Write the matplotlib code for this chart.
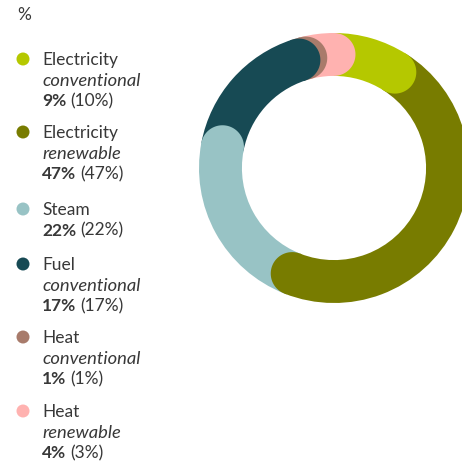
import matplotlib
matplotlib.use("Agg")
import matplotlib.pyplot as plt
from matplotlib.patches import Wedge, Circle, Polygon
import numpy as np

# ---- data ----
categories = ["Electricity", "Electricity", "Steam", "Fuel", "Heat", "Heat"]
subtypes = ["conventional", "renewable", None, "conventional", "conventional", "renewable"]
values = [9, 47, 22, 17, 1, 4]
prev_values = [10, 47, 22, 17, 1, 3]
colors = ["#b5c800", "#787c00", "#98c3c5", "#174a54", "#a87b6b", "#ffb2b0"]
unit_label = "%"

W, H = 462, 461
fig = plt.figure(figsize=(W / 100, H / 100), dpi=100)
fig.patch.set_facecolor("white")

FONT = ["Lato", "DejaVu Sans"]
TXT = "#383838"
FS = 12.5

# ---- donut ----
cx, cy, R = 334, 168, 135
ax = fig.add_axes([(cx - R) / W, 1 - (cy + R) / H, 2 * R / W, 2 * R / H])
ax.set_xlim(-1, 1)
ax.set_ylim(-1, 1)
ax.axis("off")
width = 0.318
r_in = 1 - width
rmid = 1 - width / 2

total = sum(values)
cum = np.cumsum([0] + values)
angles = [(cum[i] / total * 360, cum[i + 1] / total * 360) for i in range(len(values))]

# flat segment bodies
for (a0, a1), c in zip(angles, colors):
    ax.add_patch(Wedge((0, 0), 1, 90 - a1, 90 - a0, width=width, facecolor=c, edgecolor="none"))


def cap_polygon(a1, back=1.0):
    # small tail of the segment plus a semicircular cap at its clockwise end
    th = np.radians(np.linspace(90 - (a1 - back), 90 - a1, 8))
    outer = np.c_[np.cos(th), np.sin(th)]
    phi = np.radians(90 - a1)
    ex, ey = rmid * np.cos(phi), rmid * np.sin(phi)
    t = np.linspace(phi, phi - np.pi, 60)
    cap = np.c_[ex + width / 2 * np.cos(t), ey + width / 2 * np.sin(t)]
    inner = r_in * np.c_[np.cos(th[::-1]), np.sin(th[::-1])]
    return np.vstack([outer, cap, inner])


for (a0, a1), c in reversed(list(zip(angles, colors))):
    ax.add_patch(Polygon(cap_polygon(a1), closed=True, facecolor=c, edgecolor="none"))

# ---- legend ----
fig.text(17 / W, 1 - 15 / H, unit_label, fontsize=FS, color=TXT, family=FONT, va="center", ha="left")

renderer = fig.canvas.get_renderer()
y_first = [60, 133, 210, 265, 338, 412]
line_h = 20.7
x_text = 42
for i, cat in enumerate(categories):
    y = y_first[i]
    fig.patches.append(Circle((23 / W, 1 - (y - 1) / H), 6.5 / W, transform=fig.transFigure,
                              facecolor=colors[i], edgecolor="none"))
    fig.text(x_text / W, 1 - y / H, cat, fontsize=FS, color=TXT, family=FONT, va="center", ha="left")
    yy = y
    if subtypes[i]:
        yy += line_h
        fig.text(x_text / W, 1 - yy / H, subtypes[i], fontsize=13.2, color=TXT, family=FONT,
                 style="italic", va="center", ha="left")
    yy += line_h
    t = fig.text(x_text / W, 1 - yy / H, f"{values[i]}%", fontsize=FS, color=TXT, family=FONT,
                 weight="bold", va="center", ha="left")
    bb = t.get_window_extent(renderer)
    fig.text((bb.x1 + 4) / W, 1 - yy / H, f"({prev_values[i]}%)", fontsize=FS, color=TXT,
             family=FONT, va="center", ha="left")

fig.savefig("out.png", dpi=100)
